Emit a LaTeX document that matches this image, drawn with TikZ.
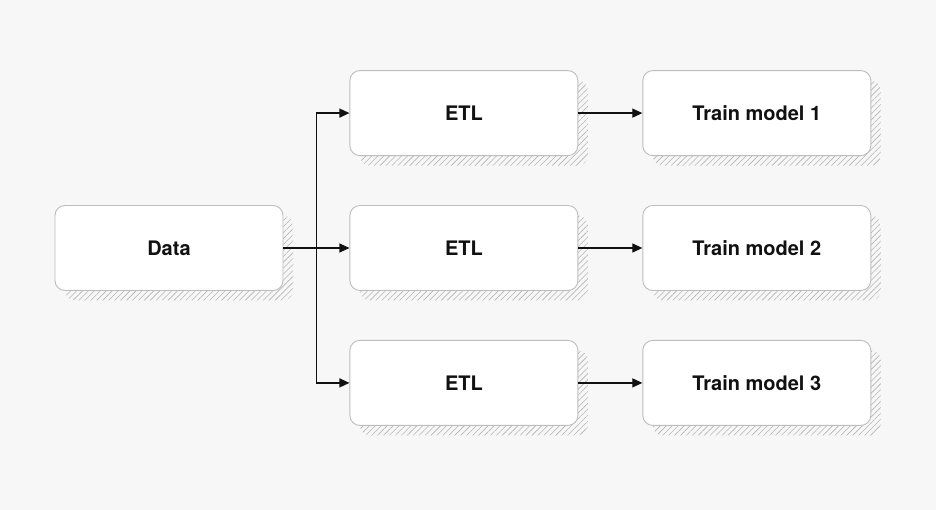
\documentclass[tikz,border=0pt]{standalone}
\usepackage{fontspec}
\setmainfont{TeX Gyre Heros}
\usetikzlibrary{positioning,arrows.meta,patterns.meta}
\definecolor{pagebg}{HTML}{F7F7F7}
\definecolor{boxline}{HTML}{BDBDBD}
\definecolor{hatchgray}{HTML}{B4B4B4}
\definecolor{inkblack}{HTML}{111111}
\tikzset{
    every node/.style={font=\fontsize{20}{24}\selectfont\bfseries},
    stagebox/.style={rectangle,rounded corners=10pt,draw=boxline,fill=white,line width=0.9pt,
        minimum width=228pt,minimum height=85pt,inner sep=0pt,text=inkblack,
        preaction={draw=none,pattern={Lines[angle=45,distance=4.2pt,line width=0.6pt]},
            pattern color=hatchgray,transform canvas={shift={(10pt,-10pt)}}}},
    flow/.style={draw=inkblack,-{Triangle[length=10pt,width=9pt]},line width=1.2pt}
}

\begin{document}
\begin{tikzpicture}[node distance=49pt]
    \fill[pagebg] (0pt,0pt) rectangle (936pt,-510pt);
    \node[stagebox] (data) at (169pt,-248pt) {Data};
    \node[stagebox,right=66pt of data] (etl2) {ETL};
    \node[stagebox,above=of etl2] (etl1) {ETL};
    \node[stagebox,below=of etl2] (etl3) {ETL};
    \node[stagebox,right=64pt of etl1] (train1) {Train model 1};
    \node[stagebox,right=64pt of etl2] (train2) {Train model 2};
    \node[stagebox,right=64pt of etl3] (train3) {Train model 3};
    \coordinate[right=33pt of data.east] (fork);
    \draw[flow] (data) -- (etl2);
    \draw[flow] (fork) |- (etl1);
    \draw[flow] (fork) |- (etl3);
    \draw[flow] (etl1) -- (train1);
    \draw[flow] (etl2) -- (train2);
    \draw[flow] (etl3) -- (train3);
\end{tikzpicture}
\end{document}
